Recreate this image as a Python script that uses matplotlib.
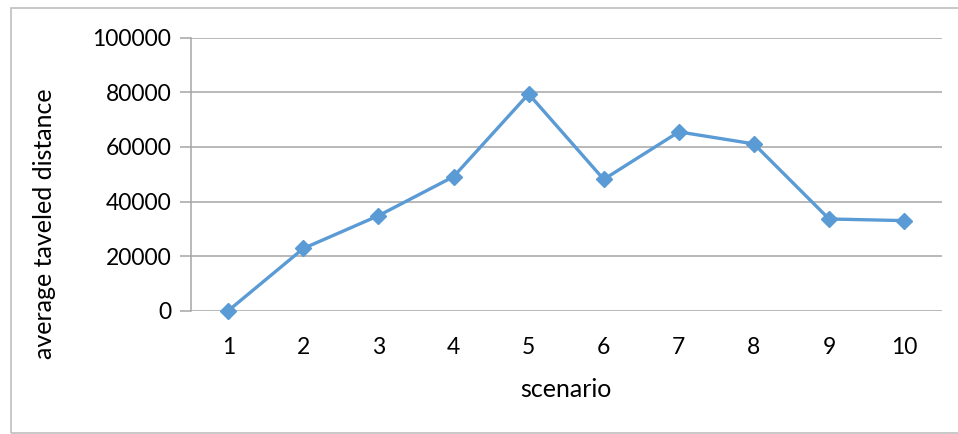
import matplotlib
matplotlib.use("Agg")
import matplotlib.pyplot as plt
from matplotlib.patches import Rectangle

scenarios = [1, 2, 3, 4, 5, 6, 7, 8, 9, 10]
avg_distance = [0, 22800, 34800, 49100, 79400, 48100, 65500, 61100, 33600, 33000]
y_ticks = [0, 20000, 40000, 60000, 80000, 100000]

plt.rcParams['font.family'] = ['Lato', 'DejaVu Sans']

fig = plt.figure(figsize=(9.58, 4.34), dpi=100)
fig.patch.set_facecolor('white')

# outer chart-area border
fig.add_artist(Rectangle((11 / 958, 1 - 432.5 / 434), 2, 424.5 / 434,
                         transform=fig.transFigure, fill=False,
                         edgecolor='#BFBFBF', linewidth=1.2))

ax = fig.add_axes([190.7 / 958, 1 - 310.7 / 434, 751 / 958, 273 / 434])

grid_col = '#A6A6A6'
ax.plot(scenarios, avg_distance, color='#5B9BD5', linewidth=2.4,
        marker='D', markersize=8, markeredgecolor='#5B9BD5', zorder=3,
        clip_on=False)

ax.set_xlim(0.5, 10.5)
ax.set_ylim(0, 100000)
ax.set_yticks(y_ticks)
ax.set_yticklabels([str(v) for v in y_ticks])
ax.set_xticks(scenarios)
ax.set_xticklabels([str(s) for s in scenarios])

ax.grid(axis='y', color=grid_col, linewidth=1.1)
ax.set_axisbelow(True)
for side in ['top', 'right', 'bottom']:
    ax.spines[side].set_visible(False)
ax.spines['left'].set_color(grid_col)
ax.spines['left'].set_linewidth(1.1)

ax.tick_params(axis='y', length=8, width=1.1, color=grid_col, pad=6,
               labelsize=16.5, labelcolor='black')
ax.tick_params(axis='x', length=0, pad=19, labelsize=16.5, labelcolor='black')

ax.set_xlabel('scenario', fontsize=18, labelpad=14)
ax.set_ylabel('average taveled distance', fontsize=18)
ax.yaxis.set_label_coords(-0.18, 0.318)

fig.savefig('out.png', dpi=100, facecolor='white')
